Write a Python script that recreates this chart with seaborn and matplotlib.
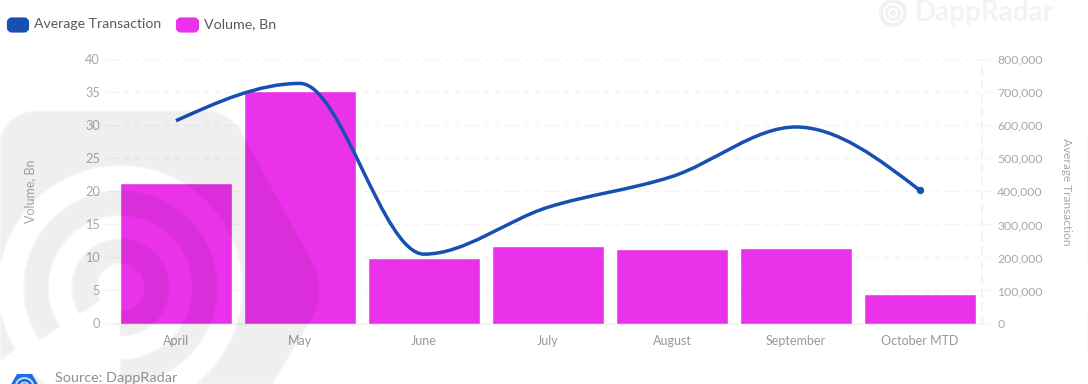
import numpy as np
import pandas as pd
import seaborn as sns
import matplotlib.pyplot as plt
from matplotlib.path import Path
from matplotlib.patches import PathPatch, FancyBboxPatch, RegularPolygon, Circle

months = ["April", "May", "June", "July", "August", "September", "October MTD"]
volume_bn = [21.2, 35.2, 9.9, 11.8, 11.3, 11.5, 4.5]
avg_transaction = [614000, 727000, 210000, 352000, 445000, 595000, 403000]
volume_ticks = [0, 5, 10, 15, 20, 25, 30, 35, 40]
avg_ticks = [0, 100000, 200000, 300000, 400000, 500000, 600000, 700000, 800000]

BLUE = "#1650b2"
MAGENTA = "#ea32ea"
TICK = "#a8a8a8"
GRID = "#f2f2f2"

sns.set_theme(style="white")
plt.rcParams["font.family"] = ["Lato", "DejaVu Sans"]

W, H = 1088, 384
fig = plt.figure(figsize=(W / 100, H / 100), dpi=100)
ax = fig.add_axes([114 / W, 1 - 323.5 / H, 868 / W, 264.2 / H])

df = pd.DataFrame({"month": months, "volume": volume_bn})
sns.barplot(data=df, x="month", y="volume", color=MAGENTA, saturation=1, width=0.91, ax=ax, zorder=3)
ax.set_xlim(-0.5, 6.5)
ax.set_ylim(0, 40)
ax.set_yticks(volume_ticks)
ax.set_xlabel("")
ax.set_ylabel("Volume, Bn", fontsize=9, color=TICK)
ax.yaxis.set_label_coords((36 - 114) / 868, 0.5)
ax.tick_params(axis="x", length=0, pad=8, labelsize=9, labelcolor="#999999")
ax.tick_params(axis="y", length=6, width=0.8, color=GRID, pad=4, labelsize=9.2, labelcolor=TICK)
ax.grid(True, axis="y", color=GRID, linestyle=(0, (4, 4)), linewidth=0.9, zorder=0)
ax.set_axisbelow(True)
for s in ["top", "left"]:
    ax.spines[s].set_visible(False)
ax.spines["bottom"].set_color(GRID)
ax.spines["right"].set_color(GRID)
ax.spines["right"].set_linestyle((0, (4, 4)))

ax2 = ax.twinx()
ax2.set_ylim(0, 800000)
ax2.set_yticks(avg_ticks)
ax2.set_yticklabels([f"{v:,}" for v in avg_ticks])
ax2.tick_params(axis="y", length=6, width=0.8, color=GRID, pad=5, labelsize=8.8, labelcolor=TICK)
ax2.set_ylabel("Average Transaction", fontsize=8.6, color=TICK, rotation=270, labelpad=0)
ax2.yaxis.set_label_coords((1072 - 114) / 868, 0.5)
ax2.grid(False)
for s in ["top", "left", "bottom", "right"]:
    ax2.spines[s].set_visible(False)


# monotone curve through the seven values, same smoothing as the source chart
def monotone_path(x, y):
    x, y = np.asarray(x, float), np.asarray(y, float)
    h = np.diff(x)
    d = np.diff(y) / h
    m = np.zeros(len(x))
    for i in range(1, len(x) - 1):
        if d[i - 1] * d[i] > 0:
            m[i] = (np.sign(d[i - 1]) + np.sign(d[i])) * min(abs(d[i - 1]), abs(d[i]), 0.25 * abs(d[i - 1] + d[i]))
    m[0] = (3 * d[0] - m[1]) / 2
    m[-1] = (3 * d[-1] - m[-2]) / 2
    verts, codes = [(x[0], y[0])], [Path.MOVETO]
    for i in range(len(x) - 1):
        verts += [(x[i] + h[i] / 3, y[i] + m[i] * h[i] / 3),
                  (x[i + 1] - h[i] / 3, y[i + 1] - m[i + 1] * h[i] / 3),
                  (x[i + 1], y[i + 1])]
        codes += [Path.CURVE4] * 3
    return Path(verts, codes)


xpos = list(range(len(months)))
ax2.add_patch(PathPatch(monotone_path(xpos, avg_transaction), fill=False, edgecolor=BLUE, linewidth=2.5, zorder=5))
sns.scatterplot(x=xpos[-1:], y=avg_transaction[-1:], color=BLUE, s=28, linewidth=0, ax=ax2, zorder=6, clip_on=False)
ax2.set_xlim(-0.5, 6.5)

# background watermark, darkens whatever lies under it
yy, xx = np.mgrid[0:H, 0:W]
outer = Path([(-10, 140), (0, 135), (12, 110), (40, 110), (200, 110), (228, 110), (240, 130), (312, 262), (326, 287), (312, 316), (262, 400), (-10, 400), (-10, 140)],
             [Path.MOVETO, Path.LINETO, Path.CURVE3, Path.CURVE3, Path.LINETO, Path.CURVE3, Path.CURVE3, Path.LINETO, Path.CURVE3, Path.CURVE3, Path.LINETO, Path.LINETO, Path.CLOSEPOLY])
mask = outer.contains_points(np.c_[xx.ravel(), yy.ravel()]).reshape(H, W)
cx, cy = 120, 287
r = np.hypot(xx - cx, yy - cy)
ang = np.degrees(np.arctan2(cy - yy, xx - cx)) % 360
mask = mask & (r > 122)
opening = (ang > 213) & (ang < 270)
ring_a = (r > 24) & (r < 49) & ~opening
ring_b = (r > 72) & (r < 97) & ~opening
band = (np.abs((xx - cx) * np.sin(np.radians(217)) - (cy - yy) * np.cos(np.radians(217))) < 14) & (ang > 190) & (ang < 250)
mask = (mask & ~band) | ring_a | ring_b
# soften edges a little, the reference is a blurry screenshot
soft = mask.astype(float)
for axis in (0, 1):
    soft = (np.roll(soft, 1, axis) + soft + np.roll(soft, -1, axis)) / 3

rgba = np.zeros((H, W, 4))
rgba[..., 3] = soft * 0.065

over = fig.add_axes([0, 0, 1, 1], zorder=10)
over.axis("off")
over.patch.set_alpha(0)
over.imshow(rgba, extent=(0, W, H, 0), aspect="auto", interpolation="bilinear")
over.set_xlim(0, W)
over.set_ylim(H, 0)

# legend
over.add_patch(FancyBboxPatch((9, 19.5), 18, 11, boxstyle="round,pad=0,rounding_size=3", facecolor=BLUE, edgecolor=BLUE, linewidth=3))
over.add_patch(FancyBboxPatch((178, 19.5), 19, 11, boxstyle="round,pad=0,rounding_size=3", facecolor=MAGENTA, edgecolor=MAGENTA, linewidth=3))
over.text(34, 24.5, "Average Transaction", fontsize=10.1, color="#5a5a5a", va="center")
over.text(204, 24.5, "Volume, Bn", fontsize=10.3, color="#5a5a5a", va="center")

# DappRadar mark top right
over.text(915, 13, "DappRadar", fontsize=20, fontweight="bold", color="#f3f3f3", va="center")
over.add_patch(Circle((893, 13), 14, facecolor="#f1f1f1", edgecolor="none"))
over.add_patch(Circle((893, 13), 9, facecolor="none", edgecolor="white", linewidth=1.4))
over.add_patch(Circle((893, 13), 4, facecolor="none", edgecolor="white", linewidth=1.4))

# source line
over.add_patch(RegularPolygon((24.5, 387), 6, radius=15, orientation=np.pi / 6, facecolor="#1c6fdc", edgecolor="none"))
over.add_patch(Circle((24.5, 387), 9, facecolor="none", edgecolor="#cfe2f8", linewidth=1.3))
over.add_patch(Circle((24.5, 387), 4.5, facecolor="none", edgecolor="#cfe2f8", linewidth=1.2))
over.text(55, 378, "Source: DappRadar", fontsize=10.4, color="#8f8f8f", va="center")

fig.savefig("out.png", dpi=100)
